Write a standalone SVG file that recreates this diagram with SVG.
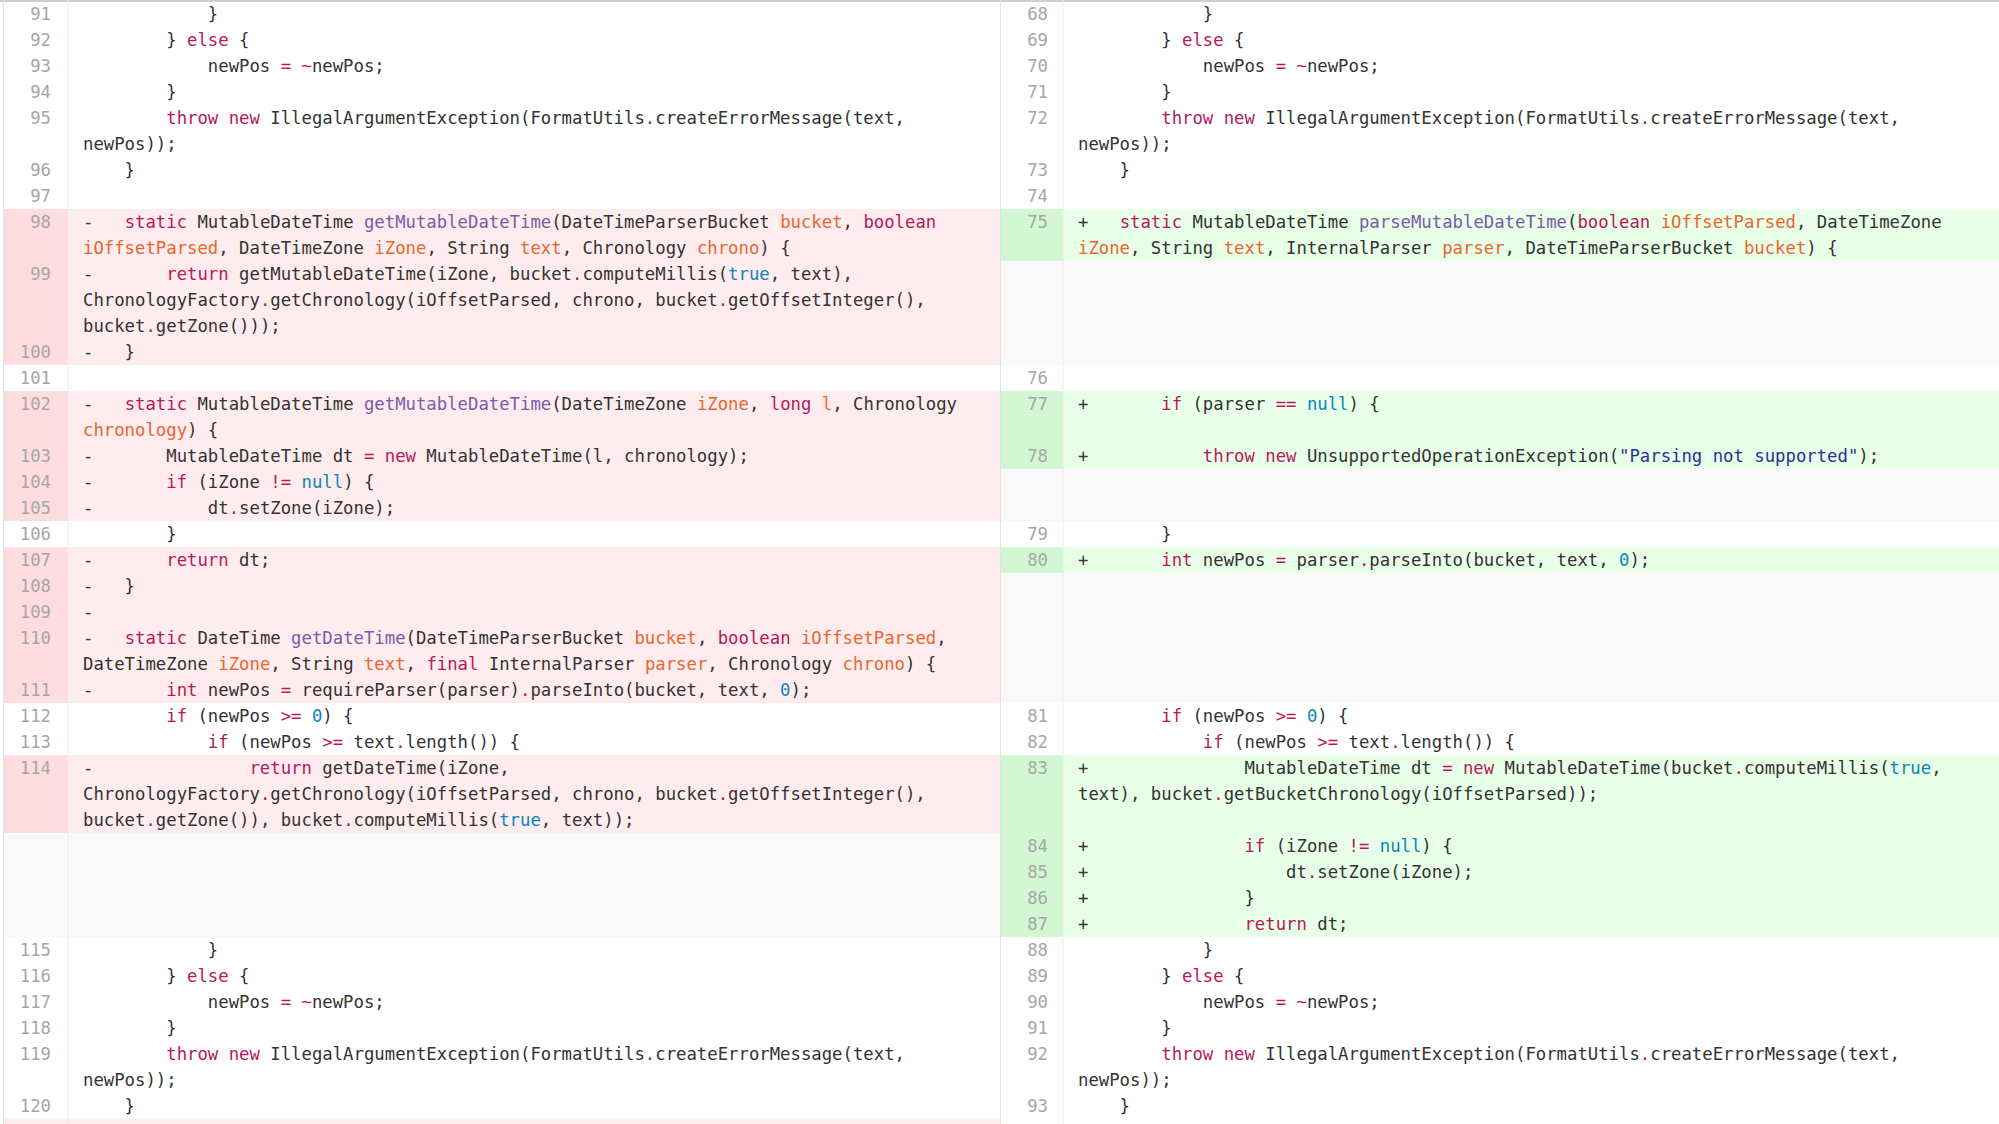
<svg xmlns="http://www.w3.org/2000/svg" width="1999" height="1124" viewBox="0 0 1999 1124" xml:space="preserve">
<style>
text{font-family:"DejaVu Sans Mono","Liberation Mono",monospace;font-size:17.3px;fill:#333;white-space:pre}
.k{fill:#b8195c}.f{fill:#7a5aab}.p{fill:#e9662f}.c{fill:#0a86b8}.s{fill:#1f3596}
.n{fill:#a6a6a6;text-anchor:end}
.rb{fill:#ffecee}.rg{fill:#ffdcdf}.gb{fill:#e8ffe8}.gg{fill:#d3f7d3}.eb{fill:#f9f9f9}
</style>
<rect x="0" y="0" width="1999" height="1124" fill="#ffffff"/>
<g id="backgrounds">
<rect class="rb" x="4" y="209" width="996" height="156"/><rect class="rg" x="4" y="209" width="64" height="156"/>
<rect class="rb" x="4" y="391" width="996" height="130"/><rect class="rg" x="4" y="391" width="64" height="130"/>
<rect class="rb" x="4" y="547" width="996" height="156"/><rect class="rg" x="4" y="547" width="64" height="156"/>
<rect class="rb" x="4" y="755" width="996" height="78"/><rect class="rg" x="4" y="755" width="64" height="78"/>
<rect class="eb" x="4" y="833" width="996" height="104"/>
<rect class="rb" x="4" y="1119" width="996" height="5"/>
<rect class="gb" x="1000" y="209" width="999" height="52"/><rect class="gg" x="1000" y="209" width="63" height="52"/>
<rect class="eb" x="1000" y="261" width="999" height="104"/>
<rect class="gb" x="1000" y="391" width="999" height="78"/><rect class="gg" x="1000" y="391" width="63" height="78"/>
<rect class="eb" x="1000" y="469" width="999" height="52"/>
<rect class="gb" x="1000" y="547" width="999" height="26"/><rect class="gg" x="1000" y="547" width="63" height="26"/>
<rect class="eb" x="1000" y="573" width="999" height="130"/>
<rect class="gb" x="1000" y="755" width="999" height="182"/><rect class="gg" x="1000" y="755" width="63" height="182"/>
<line x1="0" y1="1" x2="1999" y2="1" stroke="#cfcfcf" stroke-width="2"/>
<line x1="3.5" y1="0" x2="3.5" y2="1124" stroke="#e2e2e2"/>
<line x1="68" y1="0" x2="68" y2="1124" stroke="#ececec"/>
<line x1="1000.5" y1="0" x2="1000.5" y2="1124" stroke="#e2e2e2"/>
<line x1="1063" y1="0" x2="1063" y2="1124" stroke="#ececec"/>
</g>
<g id="left-numbers">
<text class="n" x="51" y="20">91</text><text class="n" x="51" y="46">92</text><text class="n" x="51" y="72">93</text><text class="n" x="51" y="98">94</text><text class="n" x="51" y="124">95</text><text class="n" x="51" y="176">96</text><text class="n" x="51" y="202">97</text><text class="n" x="51" y="228">98</text><text class="n" x="51" y="280">99</text><text class="n" x="51" y="358">100</text><text class="n" x="51" y="384">101</text><text class="n" x="51" y="410">102</text><text class="n" x="51" y="462">103</text><text class="n" x="51" y="488">104</text><text class="n" x="51" y="514">105</text><text class="n" x="51" y="540">106</text><text class="n" x="51" y="566">107</text><text class="n" x="51" y="592">108</text><text class="n" x="51" y="618">109</text><text class="n" x="51" y="644">110</text><text class="n" x="51" y="696">111</text><text class="n" x="51" y="722">112</text><text class="n" x="51" y="748">113</text><text class="n" x="51" y="774">114</text><text class="n" x="51" y="956">115</text><text class="n" x="51" y="982">116</text><text class="n" x="51" y="1008">117</text><text class="n" x="51" y="1034">118</text><text class="n" x="51" y="1060">119</text><text class="n" x="51" y="1112">120</text>
</g>
<g id="left-code">
<text x="83" y="20">            }</text>
<text x="83" y="46">        } <tspan class="k">else</tspan> {</text>
<text x="83" y="72">            newPos <tspan class="k">= ~</tspan>newPos;</text>
<text x="83" y="98">        }</text>
<text x="83" y="124">        <tspan class="k">throw new</tspan> IllegalArgumentException(FormatUtils<tspan class="k">.</tspan>createErrorMessage(text,</text>
<text x="83" y="150">newPos));</text>
<text x="83" y="176">    }</text>
<text x="83" y="228">-   <tspan class="k">static</tspan> MutableDateTime <tspan class="f">getMutableDateTime</tspan>(DateTimeParserBucket <tspan class="p">bucket</tspan>, <tspan class="k">boolean</tspan></text>
<text x="83" y="254"><tspan class="p">iOffsetParsed</tspan>, DateTimeZone <tspan class="p">iZone</tspan>, String <tspan class="p">text</tspan>, Chronology <tspan class="p">chrono</tspan>) {</text>
<text x="83" y="280">-       <tspan class="k">return</tspan> getMutableDateTime(iZone, bucket<tspan class="k">.</tspan>computeMillis(<tspan class="c">true</tspan>, text),</text>
<text x="83" y="306">ChronologyFactory<tspan class="k">.</tspan>getChronology(iOffsetParsed, chrono, bucket<tspan class="k">.</tspan>getOffsetInteger(),</text>
<text x="83" y="332">bucket<tspan class="k">.</tspan>getZone()));</text>
<text x="83" y="358">-   }</text>
<text x="83" y="410">-   <tspan class="k">static</tspan> MutableDateTime <tspan class="f">getMutableDateTime</tspan>(DateTimeZone <tspan class="p">iZone</tspan>, <tspan class="k">long</tspan> <tspan class="p">l</tspan>, Chronology</text>
<text x="83" y="436"><tspan class="p">chronology</tspan>) {</text>
<text x="83" y="462">-       MutableDateTime dt <tspan class="k">= new</tspan> MutableDateTime(l, chronology);</text>
<text x="83" y="488">-       <tspan class="k">if</tspan> (iZone <tspan class="k">!=</tspan> <tspan class="c">null</tspan>) {</text>
<text x="83" y="514">-           dt<tspan class="k">.</tspan>setZone(iZone);</text>
<text x="83" y="540">        }</text>
<text x="83" y="566">-       <tspan class="k">return</tspan> dt;</text>
<text x="83" y="592">-   }</text>
<text x="83" y="618">-</text>
<text x="83" y="644">-   <tspan class="k">static</tspan> DateTime <tspan class="f">getDateTime</tspan>(DateTimeParserBucket <tspan class="p">bucket</tspan>, <tspan class="k">boolean</tspan> <tspan class="p">iOffsetParsed</tspan>,</text>
<text x="83" y="670">DateTimeZone <tspan class="p">iZone</tspan>, String <tspan class="p">text</tspan>, <tspan class="k">final</tspan> InternalParser <tspan class="p">parser</tspan>, Chronology <tspan class="p">chrono</tspan>) {</text>
<text x="83" y="696">-       <tspan class="k">int</tspan> newPos <tspan class="k">=</tspan> requireParser(parser)<tspan class="k">.</tspan>parseInto(bucket, text, <tspan class="c">0</tspan>);</text>
<text x="83" y="722">        <tspan class="k">if</tspan> (newPos <tspan class="k">&gt;=</tspan> <tspan class="c">0</tspan>) {</text>
<text x="83" y="748">            <tspan class="k">if</tspan> (newPos <tspan class="k">&gt;=</tspan> text<tspan class="k">.</tspan>length()) {</text>
<text x="83" y="774">-               <tspan class="k">return</tspan> getDateTime(iZone,</text>
<text x="83" y="800">ChronologyFactory<tspan class="k">.</tspan>getChronology(iOffsetParsed, chrono, bucket<tspan class="k">.</tspan>getOffsetInteger(),</text>
<text x="83" y="826">bucket<tspan class="k">.</tspan>getZone()), bucket<tspan class="k">.</tspan>computeMillis(<tspan class="c">true</tspan>, text));</text>
<text x="83" y="956">            }</text>
<text x="83" y="982">        } <tspan class="k">else</tspan> {</text>
<text x="83" y="1008">            newPos <tspan class="k">= ~</tspan>newPos;</text>
<text x="83" y="1034">        }</text>
<text x="83" y="1060">        <tspan class="k">throw new</tspan> IllegalArgumentException(FormatUtils<tspan class="k">.</tspan>createErrorMessage(text,</text>
<text x="83" y="1086">newPos));</text>
<text x="83" y="1112">    }</text>
</g>
<g id="right-numbers">
<text class="n" x="1048" y="20">68</text><text class="n" x="1048" y="46">69</text><text class="n" x="1048" y="72">70</text><text class="n" x="1048" y="98">71</text><text class="n" x="1048" y="124">72</text><text class="n" x="1048" y="176">73</text><text class="n" x="1048" y="202">74</text><text class="n" x="1048" y="228">75</text><text class="n" x="1048" y="384">76</text><text class="n" x="1048" y="410">77</text><text class="n" x="1048" y="462">78</text><text class="n" x="1048" y="540">79</text><text class="n" x="1048" y="566">80</text><text class="n" x="1048" y="722">81</text><text class="n" x="1048" y="748">82</text><text class="n" x="1048" y="774">83</text><text class="n" x="1048" y="852">84</text><text class="n" x="1048" y="878">85</text><text class="n" x="1048" y="904">86</text><text class="n" x="1048" y="930">87</text><text class="n" x="1048" y="956">88</text><text class="n" x="1048" y="982">89</text><text class="n" x="1048" y="1008">90</text><text class="n" x="1048" y="1034">91</text><text class="n" x="1048" y="1060">92</text><text class="n" x="1048" y="1112">93</text>
</g>
<g id="right-code">
<text x="1078" y="20">            }</text>
<text x="1078" y="46">        } <tspan class="k">else</tspan> {</text>
<text x="1078" y="72">            newPos <tspan class="k">= ~</tspan>newPos;</text>
<text x="1078" y="98">        }</text>
<text x="1078" y="124">        <tspan class="k">throw new</tspan> IllegalArgumentException(FormatUtils<tspan class="k">.</tspan>createErrorMessage(text,</text>
<text x="1078" y="150">newPos));</text>
<text x="1078" y="176">    }</text>
<text x="1078" y="228">+   <tspan class="k">static</tspan> MutableDateTime <tspan class="f">parseMutableDateTime</tspan>(<tspan class="k">boolean</tspan> <tspan class="p">iOffsetParsed</tspan>, DateTimeZone</text>
<text x="1078" y="254"><tspan class="p">iZone</tspan>, String <tspan class="p">text</tspan>, InternalParser <tspan class="p">parser</tspan>, DateTimeParserBucket <tspan class="p">bucket</tspan>) {</text>
<text x="1078" y="410">+       <tspan class="k">if</tspan> (parser <tspan class="k">==</tspan> <tspan class="c">null</tspan>) {</text>
<text x="1078" y="462">+           <tspan class="k">throw new</tspan> UnsupportedOperationException(<tspan class="s">"Parsing not supported"</tspan>);</text>
<text x="1078" y="540">        }</text>
<text x="1078" y="566">+       <tspan class="k">int</tspan> newPos <tspan class="k">=</tspan> parser<tspan class="k">.</tspan>parseInto(bucket, text, <tspan class="c">0</tspan>);</text>
<text x="1078" y="722">        <tspan class="k">if</tspan> (newPos <tspan class="k">&gt;=</tspan> <tspan class="c">0</tspan>) {</text>
<text x="1078" y="748">            <tspan class="k">if</tspan> (newPos <tspan class="k">&gt;=</tspan> text<tspan class="k">.</tspan>length()) {</text>
<text x="1078" y="774">+               MutableDateTime dt <tspan class="k">= new</tspan> MutableDateTime(bucket<tspan class="k">.</tspan>computeMillis(<tspan class="c">true</tspan>,</text>
<text x="1078" y="800">text), bucket<tspan class="k">.</tspan>getBucketChronology(iOffsetParsed));</text>
<text x="1078" y="852">+               <tspan class="k">if</tspan> (iZone <tspan class="k">!=</tspan> <tspan class="c">null</tspan>) {</text>
<text x="1078" y="878">+                   dt<tspan class="k">.</tspan>setZone(iZone);</text>
<text x="1078" y="904">+               }</text>
<text x="1078" y="930">+               <tspan class="k">return</tspan> dt;</text>
<text x="1078" y="956">            }</text>
<text x="1078" y="982">        } <tspan class="k">else</tspan> {</text>
<text x="1078" y="1008">            newPos <tspan class="k">= ~</tspan>newPos;</text>
<text x="1078" y="1034">        }</text>
<text x="1078" y="1060">        <tspan class="k">throw new</tspan> IllegalArgumentException(FormatUtils<tspan class="k">.</tspan>createErrorMessage(text,</text>
<text x="1078" y="1086">newPos));</text>
<text x="1078" y="1112">    }</text>
</g>
</svg>
